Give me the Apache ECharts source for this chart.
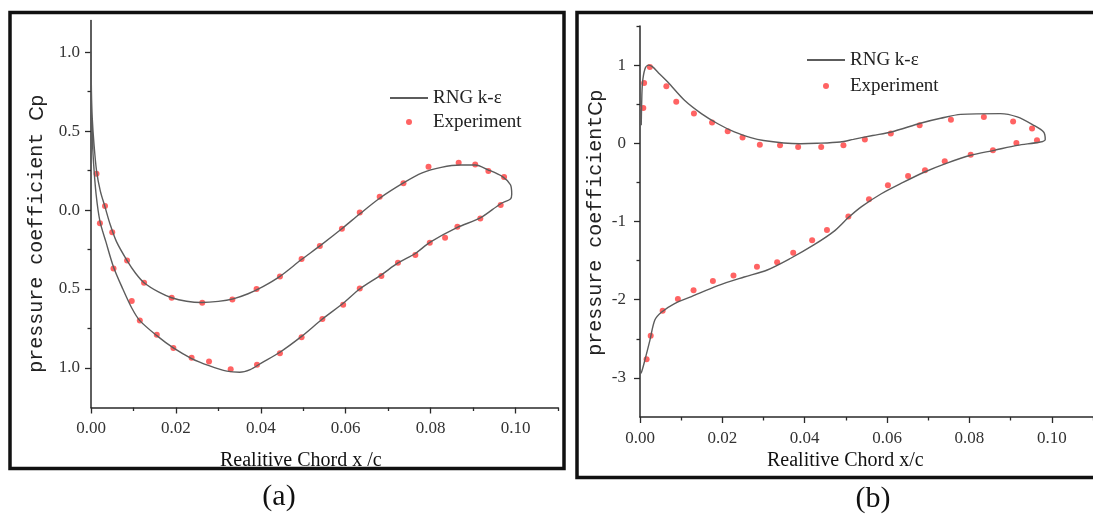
<!DOCTYPE html>
<html>
<head>
<meta charset="utf-8">
<script src="https://cdn.jsdelivr.net/npm/echarts@6/dist/echarts.min.js"></script>
<style>
  html, body { margin: 0; padding: 0; background: #fff; }
  #chart { width: 1093px; height: 517px; }
</style>
</head>
<body>
<div id="chart"></div>
<script>
// ---- Panel (a): RNG k-epsilon prediction, traced round the section as a closed loop ----
const cfdA = [
  [0.0000, 1.00], [0.0001, 0.75], [0.0003, 0.58], [0.0007, 0.42], [0.0013, 0.25],
  [0.0022, 0.12], [0.0033, 0.02], [0.0045, -0.09], [0.0060, -0.20], [0.0085, -0.32],
  [0.0105, -0.40], [0.0125, -0.46], [0.0160, -0.52], [0.0190, -0.555], [0.0225, -0.577],
  [0.0260, -0.585], [0.0300, -0.578], [0.0335, -0.562], [0.0370, -0.53], [0.0405, -0.485],
  [0.0445, -0.42], [0.0495, -0.315], [0.0540, -0.225], [0.0590, -0.12], [0.0635, -0.02],
  [0.0680, 0.075], [0.0735, 0.17], [0.0780, 0.235], [0.0825, 0.27], [0.0870, 0.285],
  [0.0905, 0.285], [0.0935, 0.255], [0.0970, 0.21], [0.0988, 0.16], [0.0991, 0.10],
  [0.0988, 0.07], [0.0965, 0.04], [0.0917, -0.05], [0.0863, -0.11], [0.0798, -0.205],
  [0.0764, -0.275], [0.0723, -0.335], [0.0684, -0.41], [0.0633, -0.50], [0.0594, -0.59],
  [0.0545, -0.69], [0.0496, -0.80], [0.0445, -0.90], [0.0400, -0.97], [0.0375, -1.01],
  [0.0350, -1.027], [0.0320, -1.02], [0.0278, -0.985], [0.0237, -0.94], [0.0194, -0.873],
  [0.0155, -0.795], [0.0115, -0.70], [0.0096, -0.62], [0.0075, -0.50], [0.0053, -0.36],
  [0.0035, -0.20], [0.0021, -0.07], [0.0012, 0.10], [0.0006, 0.30], [0.0002, 0.50],
  [0.0000, 0.60]
];
// Panel (a): measured pressure coefficient
const expA = [
  [0.0013, 0.23], [0.0033, 0.025], [0.0050, -0.14], [0.0085, -0.32], [0.0125, -0.46],
  [0.0190, -0.555], [0.0262, -0.587], [0.0333, -0.566], [0.0390, -0.50], [0.0445, -0.42],
  [0.0496, -0.31], [0.0539, -0.228], [0.0591, -0.118], [0.0633, -0.015], [0.0680, 0.084],
  [0.0736, 0.169], [0.0795, 0.274], [0.0866, 0.30], [0.0905, 0.289], [0.0936, 0.247],
  [0.0973, 0.21],
  [0.0021, -0.084], [0.0053, -0.37], [0.0096, -0.576], [0.0115, -0.70], [0.0155, -0.79],
  [0.0194, -0.873], [0.0237, -0.935], [0.0278, -0.958], [0.0329, -1.008], [0.0391, -0.98],
  [0.0445, -0.907], [0.0496, -0.806], [0.0545, -0.69], [0.0594, -0.60], [0.0633, -0.496],
  [0.0684, -0.418], [0.0723, -0.333], [0.0764, -0.285], [0.0798, -0.207], [0.0834, -0.175],
  [0.0863, -0.105], [0.0917, -0.053], [0.0965, 0.032]
];

// ---- Panel (b): RNG k-epsilon prediction ----
const cfdB = [
  [0.0003, 0.23], [0.0004, 0.50], [0.0006, 0.77], [0.0012, 0.95], [0.0020, 1.00],
  [0.0030, 0.98], [0.0045, 0.90], [0.0068, 0.78], [0.0108, 0.55], [0.0149, 0.38],
  [0.0189, 0.25], [0.0229, 0.145], [0.0269, 0.073], [0.0300, 0.035], [0.0349, 0.004],
  [0.0390, -0.005], [0.0430, 0.0], [0.0486, 0.017], [0.0518, 0.05], [0.0565, 0.10],
  [0.0610, 0.145], [0.0683, 0.26], [0.0730, 0.32], [0.0779, 0.37], [0.0875, 0.38],
  [0.0916, 0.337], [0.0956, 0.23], [0.0980, 0.145], [0.0984, 0.05], [0.0972, 0.017],
  [0.0916, -0.026], [0.0860, -0.09], [0.0803, -0.153], [0.0747, -0.25], [0.0691, -0.367],
  [0.0635, -0.51], [0.0586, -0.645], [0.0538, -0.81], [0.0506, -0.95], [0.0470, -1.13],
  [0.0422, -1.30], [0.0366, -1.47], [0.0309, -1.62], [0.0253, -1.71], [0.0189, -1.82],
  [0.0125, -1.96], [0.0084, -2.05], [0.0052, -2.16], [0.0036, -2.26], [0.0024, -2.52],
  [0.0012, -2.77], [0.0004, -2.92], [0.0000, -2.95]
];
// Panel (b): measured pressure coefficient
const expB = [
  [0.0008, 0.45], [0.0010, 0.77], [0.0024, 0.976], [0.0064, 0.73], [0.0088, 0.53],
  [0.0131, 0.38], [0.0175, 0.265], [0.0213, 0.153], [0.0249, 0.073], [0.0291, -0.017],
  [0.0340, -0.026], [0.0384, -0.047], [0.0440, -0.047], [0.0494, -0.026], [0.0546, 0.047],
  [0.0609, 0.124], [0.0679, 0.23], [0.0755, 0.30], [0.0835, 0.337], [0.0906, 0.28],
  [0.0952, 0.188], [0.0964, 0.038],
  [0.0914, 0.004], [0.0857, -0.09], [0.0803, -0.145], [0.0740, -0.23], [0.0692, -0.345],
  [0.0651, -0.418], [0.0602, -0.537], [0.0556, -0.716], [0.0506, -0.935], [0.0454, -1.11],
  [0.0418, -1.24], [0.0372, -1.40], [0.0333, -1.52], [0.0284, -1.58], [0.0227, -1.69],
  [0.0177, -1.76], [0.0130, -1.88], [0.0092, -1.99], [0.0055, -2.14], [0.0026, -2.46],
  [0.0016, -2.76]
];

// Tick positions
const xMajor = [0, 0.02, 0.04, 0.06, 0.08, 0.10];
const xMinor = [0.01, 0.03, 0.05, 0.07, 0.09, 0.11];
const yMajorA = [-1, -0.5, 0, 0.5, 1];
const yMinorA = [-0.75, -0.25, 0.25, 0.75];
const yMajorB = [-3, -2, -1, 0, 1];
const yMinorB = [-2.5, -1.5, -0.5, 0.5, 1.5];

const seriesNames = ['RNG k-\u03b5', 'Experiment'];
const xTitleA = 'Realitive Chord x /c';
const xTitleB = 'Realitive Chord x/c';
const yTitleA = '{m|pressure coefficient }{c|Cp}';
const yTitleB = '{m|pressure coefficient}{c|Cp}';

const SERIF = '"Liberation Serif", "Times New Roman", serif';
const MONO = '"Liberation Mono", "Courier New", monospace';
const AXIS_COLOR = '#2a2a2a';
const LABEL_COLOR = '#333';
const LINE_COLOR = '#5c5c5c';
const DOT_COLOR = '#ff3c3c';

function majorX(grid) {
  return {
    type: 'value', gridIndex: grid, min: 0, max: 0.11,
    axisLine: { show: true, onZero: false, lineStyle: { color: AXIS_COLOR, width: 1.5 } },
    axisTick: { show: true, customValues: xMajor, length: 6, lineStyle: { color: AXIS_COLOR, width: 1.3 } },
    axisLabel: {
      customValues: xMajor, margin: 13, formatter: v => v.toFixed(2),
      fontFamily: SERIF, fontSize: 17, color: LABEL_COLOR
    },
    splitLine: { show: false }
  };
}
function minorX(grid) {
  return {
    type: 'value', gridIndex: grid, min: 0, max: 0.11, position: 'bottom',
    axisLine: { show: false, onZero: false },
    axisTick: { show: true, customValues: xMinor, length: 3.5, lineStyle: { color: AXIS_COLOR, width: 1.3 } },
    axisLabel: { show: false },
    splitLine: { show: false }
  };
}
function majorY(grid, min, max, ticks, fmt, margin) {
  return {
    type: 'value', gridIndex: grid, min: min, max: max,
    axisLine: { show: true, onZero: false, lineStyle: { color: AXIS_COLOR, width: 1.5 } },
    axisTick: { show: true, customValues: ticks, length: 6, lineStyle: { color: AXIS_COLOR, width: 1.3 } },
    axisLabel: {
      customValues: ticks, margin: margin, formatter: fmt,
      fontFamily: SERIF, fontSize: 17, color: LABEL_COLOR
    },
    splitLine: { show: false }
  };
}
function minorY(grid, min, max, ticks) {
  return {
    type: 'value', gridIndex: grid, min: min, max: max, position: 'left',
    axisLine: { show: false, onZero: false },
    axisTick: { show: true, customValues: ticks, length: 3.5, lineStyle: { color: AXIS_COLOR, width: 1.3 } },
    axisLabel: { show: false },
    splitLine: { show: false }
  };
}

// Legend: plain line for the simulation, dot for the measurements
function legendAt(left, top, gap) {
  return {
    orient: 'vertical', left: left, top: top,
    itemWidth: 38, itemHeight: 6, itemGap: gap,
    data: [
      { name: seriesNames[0], itemStyle: { opacity: 0 } },
      { name: seriesNames[1] }
    ],
    textStyle: { fontFamily: SERIF, fontSize: 19, lineHeight: 19, color: '#222' },
    selectedMode: false
  };
}

function yTitle(x, y, text) {
  return {
    type: 'text', x: x, y: y, rotation: Math.PI / 2, silent: true,
    style: {
      text: text, align: 'center', verticalAlign: 'middle',
      rich: {
        m: { fontFamily: MONO, fontSize: 20, fill: '#222' },
        c: { fontFamily: '"Liberation Sans", Arial, sans-serif', fontSize: 20, fill: '#222' }
      }
    }
  };
}
function plainText(x, y, text, size, align) {
  return {
    type: 'text', x: x, y: y, silent: true,
    style: {
      text: text, align: align, verticalAlign: 'middle',
      fontFamily: SERIF, fontSize: size, fill: '#111'
    }
  };
}

const chart = echarts.init(document.getElementById('chart'), null, { renderer: 'canvas' });
chart.setOption({
  animation: false,
  backgroundColor: '#fff',
  grid: [
    { left: 91, top: 20.5, width: 467, height: 387 },
    { left: 640, top: 26, width: 456, height: 391 }
  ],
  xAxis: [majorX(0), majorX(1), minorX(0), minorX(1)],
  yAxis: [
    majorY(0, -1.25, 1.2, yMajorA, v => Math.abs(v).toFixed(1), 11),
    majorY(1, -3.5, 1.5, yMajorB, v => String(v), 14),
    minorY(0, -1.25, 1.2, yMinorA),
    minorY(1, -3.5, 1.5, yMinorB)
  ],
  legend: [legendAt(384, 83.5, 5), legendAt(801, 45.5, 7)],
  series: [
    {
      name: seriesNames[0], type: 'line', xAxisIndex: 0, yAxisIndex: 0,
      data: cfdA, symbol: 'none', smooth: 0.3,
      lineStyle: { color: LINE_COLOR, width: 1.4 }, itemStyle: { color: LINE_COLOR }
    },
    {
      name: seriesNames[1], type: 'scatter', xAxisIndex: 0, yAxisIndex: 0,
      data: expA, symbol: 'circle', symbolSize: 6, itemStyle: { color: DOT_COLOR }
    },
    {
      name: seriesNames[0], type: 'line', xAxisIndex: 1, yAxisIndex: 1,
      data: cfdB, symbol: 'none', smooth: 0.3,
      lineStyle: { color: LINE_COLOR, width: 1.4 }, itemStyle: { color: LINE_COLOR }
    },
    {
      name: seriesNames[1], type: 'scatter', xAxisIndex: 1, yAxisIndex: 1,
      data: expB, symbol: 'circle', symbolSize: 6, itemStyle: { color: DOT_COLOR }
    }
  ],
  graphic: [
    { type: 'rect', silent: true, shape: { x: 10, y: 12.5, width: 554, height: 456 },
      style: { fill: 'none', stroke: '#111', lineWidth: 3.5 } },
    { type: 'rect', silent: true, shape: { x: 577, y: 12.5, width: 530, height: 465 },
      style: { fill: 'none', stroke: '#111', lineWidth: 3.5 } },
    yTitle(37, 234, yTitleA),
    yTitle(596, 223, yTitleB),
    plainText(220, 461, xTitleA, 20, 'left'),
    plainText(767, 461, xTitleB, 20, 'left'),
    plainText(279, 497, '(a)', 30, 'center'),
    plainText(873, 499, '(b)', 30, 'center')
  ]
});
</script>
</body>
</html>
